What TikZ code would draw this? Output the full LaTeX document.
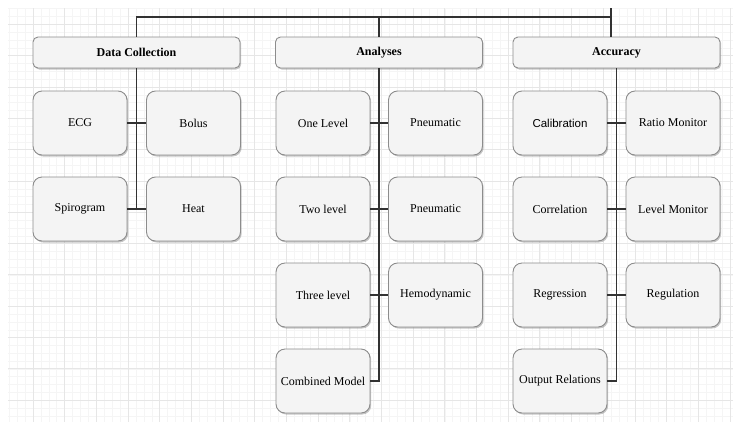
\documentclass[tikz,border=0pt]{standalone}
\usepackage{fontspec}
\setmainfont{Liberation Serif}
\newfontfamily\arialfont{Liberation Sans}
\usepackage{xcolor}
\usepackage{tikz}
\usetikzlibrary{positioning, calc, shadows}
\definecolor{boxfill}{RGB}{244, 244, 244}
\definecolor{boxline}{RGB}{140, 140, 140}
\definecolor{linkdark}{RGB}{50, 50, 50}
\definecolor{gridminor}{RGB}{245, 245, 245}
\definecolor{gridmajor}{RGB}{230, 230, 230}

\begin{document}
\begin{tikzpicture}[
    x=1pt, y=-1pt,
    head/.style={rectangle, rounded corners=5pt, draw=boxline, fill=boxfill,
        minimum width=207pt, minimum height=31pt, align=center,
        font=\fontsize{12}{14}\selectfont\bfseries, line width=0.9pt,
        drop shadow={shadow xshift=1.2pt, shadow yshift=-1.5pt, opacity=0.45}},
    leaf/.style={rectangle, rounded corners=9pt, draw=boxline, fill=boxfill,
        minimum width=94pt, minimum height=64pt, align=center, inner sep=1pt,
        font=\fontsize{12}{14}\selectfont, line width=0.9pt,
        drop shadow={shadow xshift=1.2pt, shadow yshift=-1.5pt, opacity=0.45}},
    link/.style={draw=linkdark, line width=1.2pt}
]
\useasboundingbox (0,0) rectangle (733,421);

% Grid paper
\begin{scope}
\clip (8,8) rectangle (733,421);
\draw[gridminor, line width=0.5pt, step={(7.92pt,7.83pt)}, shift={(1.3,0.9)}] (-10,-10) grid (740,430);
\draw[gridmajor, line width=0.8pt, step={(31.68pt,31.3pt)}, shift={(1.3,-6.9)}] (-10,-10) grid (740,440);
\end{scope}

% Headers
\node[head] (dc) at (136.5,52.5) {Data Collection};
\node[head] (an) at (379,52.5) {Analyses};
\node[head] (ac) at (616.5,52.5) {Accuracy};

% Data Collection
\node[leaf] (ecg) at (80,123) {ECG};
\node[leaf] (bolus) at (193.5,123) {Bolus};
\node[leaf] (spiro) at (80,209) {Spirogram};
\node[leaf] (heat) at (193.5,209) {Heat};

% Analyses
\node[leaf] (one) at (323,123) {One Level};
\node[leaf] (pn1) at (435.5,123) {Pneumatic};
\node[leaf] (two) at (323,209) {Two level};
\node[leaf] (pn2) at (435.5,209) {Pneumatic};
\node[leaf] (three) at (323,295) {Three level};
\node[leaf] (hemo) at (435.5,295) {Hemodynamic};
\node[leaf] (comb) at (323,381) {Combined Model};

% Accuracy
\node[leaf] (calib) at (560,123) {\arialfont\fontsize{11.5}{14}\selectfont Calibration};
\node[leaf] (ratio) at (673,123) {Ratio Monitor};
\node[leaf] (corr) at (560,209) {Correlation};
\node[leaf] (lvl) at (673,209) {Level Monitor};
\node[leaf] (regr) at (560,295) {Regression};
\node[leaf] (regu) at (673,295) {Regulation};
\node[leaf] (outp) at (560,381) {Output Relations};

% Top bus
\coordinate (root) at (611,8);
\coordinate (bus) at (611,17);
\draw[link] (root) -- (bus) -- (bus |- ac.north);
\draw[link] (dc.north) |- (bus);
\draw[link] (an.north) -- (an.north |- bus);

% Spines
\draw[link] (dc.south) -- (dc.south |- spiro.east);
\draw[link] (an.south) -- (an.south |- comb.east) -- (comb.east);
\draw[link] (ac.south) -- (ac.south |- outp.east) -- (outp.east);

% Rungs
\draw[link] (ecg) -- (bolus);
\draw[link] (spiro) -- (heat);
\draw[link] (one) -- (pn1);
\draw[link] (two) -- (pn2);
\draw[link] (three) -- (hemo);
\draw[link] (calib) -- (ratio);
\draw[link] (corr) -- (lvl);
\draw[link] (regr) -- (regu);

\end{tikzpicture}
\end{document}
